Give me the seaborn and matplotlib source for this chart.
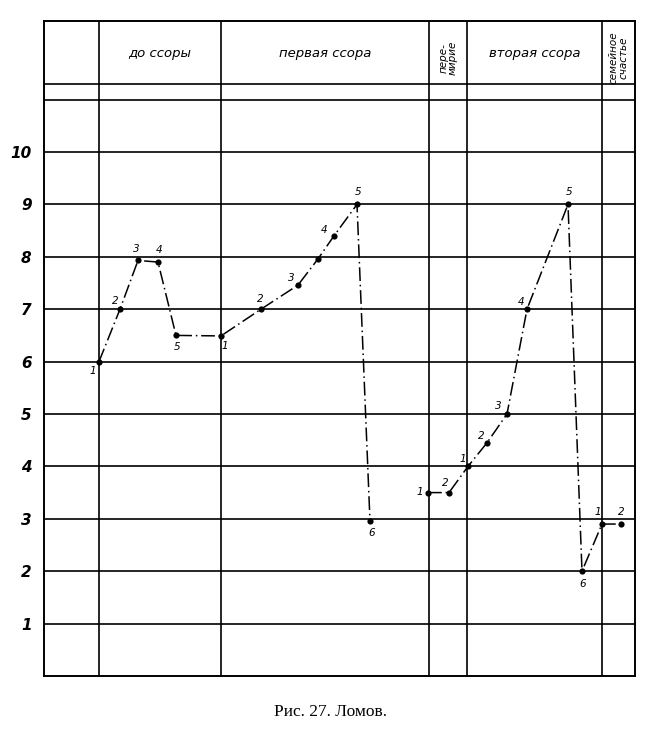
import numpy as np
import pandas as pd
import seaborn as sns
import matplotlib.pyplot as plt

# phases of the story (column headers) and the column borders on the time axis
phases = ["до ссоры", "первая ссора", "пере-\nмирие", "вторая ссора", "семейное\nсчастье"]
column_edges = [4.4, 9.9, 22.1, 42.9, 46.7, 60.2, 63.5]
phase_rotation = [0, 0, 90, 0, 90]

# first piece: before the quarrel + first quarrel
time_a = [9.9, 12.0, 13.8, 15.8, 17.6, 22.1, 26.1, 29.8, 31.8, 33.4, 35.7, 37.0]
mood_a = [6.0, 7.0, 7.93, 7.9, 6.5, 6.49, 7.0, 7.46, 7.96, 8.4, 9.0, 2.95]
labels_a = ["1", "2", "3", "4", "5", "1", "2", "3", "", "4", "5", "6"]

# second piece: truce + second quarrel + family happiness
time_b = [42.8, 44.9, 46.8, 48.7, 50.7, 52.7, 56.8, 58.2, 60.2, 62.1]
mood_b = [3.5, 3.5, 4.0, 4.45, 5.0, 7.0, 9.0, 2.0, 2.9, 2.9]
labels_b = ["1", "2", "1", "2", "3", "4", "5", "6", "1", "2"]

levels = list(range(1, 11))

# label offsets in points
offsets_a = [(-4.5, -7), (-3.5, 6), (-1.5, 8), (0.5, 8.5), (0.5, -8.5), (3, -7),
             (-0.5, 7.5), (-4.5, 5), (0, 0), (-7, 4.5), (0.5, 9), (1.5, -8.5)]
offsets_b = [(-6, 0.5), (-2.5, 7), (-4, 5.5), (-4, 5), (-6, 6), (-4.5, 5),
             (1, 9), (0.5, -9), (-3, 9), (0.5, 9)]

sns.set_style("white")
plt.rcParams['font.family'] = ['DejaVu Sans']
plt.rcParams['text.color'] = 'black'
plt.rcParams['ytick.color'] = 'black'

fig = plt.figure(figsize=(6.61, 7.34), dpi=100)
ax = fig.add_axes([44 / 661, 1 - 676 / 734, 591 / 661, 655 / 734])

df = pd.concat([
    pd.DataFrame({"t": time_a, "mood": mood_a, "piece": "a"}),
    pd.DataFrame({"t": time_b, "mood": mood_b, "piece": "b"}),
])

dash = (0, (9, 2.5, 1, 2.5))
for piece, sub in df.groupby("piece"):
    sns.lineplot(data=sub, x="t", y="mood", sort=False, estimator=None,
                 color="black", linewidth=1.1, linestyle=dash, ax=ax)
sns.scatterplot(data=df, x="t", y="mood", color="black", s=20,
                edgecolor="black", linewidth=0, zorder=5, ax=ax)

for xs, ys, labs, offs in [(time_a, mood_a, labels_a, offsets_a),
                           (time_b, mood_b, labels_b, offsets_b)]:
    for x, y, lab, off in zip(xs, ys, labs, offs):
        if lab:
            ax.annotate(lab, (x, y), xytext=off, textcoords="offset points",
                        ha="center", va="center", fontsize=7.5, style="italic")

# table grid
for lv in levels:
    ax.axhline(lv, color="black", lw=1.2, zorder=1)
ax.axhline(11, color="black", lw=1.2)
ax.axhline(11.29, color="black", lw=1.2)
for xe in column_edges[1:-1]:
    ax.axvline(xe, color="black", lw=1.2, zorder=1)

for i, name in enumerate(phases):
    cx = (column_edges[i + 1] + column_edges[i + 2]) / 2
    rot = phase_rotation[i]
    ax.text(cx, 11.88 if rot == 0 else 11.8, name, ha="center", va="center",
            rotation=rot, style="italic",
            fontsize=9.5 if rot == 0 else 7.5, linespacing=0.9)

ax.set_xlim(column_edges[0], column_edges[-1])
ax.set_ylim(0, 12.5)
ax.set_xticks([])
ax.set_yticks(levels)
ax.set_yticklabels([str(v) for v in levels], style="italic", fontweight="bold",
                   fontsize=11, color="black")
ax.tick_params(axis="y", length=0, pad=9)
ax.set_xlabel("")
ax.set_ylabel("")
for sp in ax.spines.values():
    sp.set_visible(True)
    sp.set_color("black")
    sp.set_linewidth(1.4)

fig.text(0.5, 1 - 712 / 734, "Рис. 27. Ломов.", ha="center", va="center",
         family="Liberation Serif", fontsize=12.5)

fig.savefig("out.png", dpi=100)
